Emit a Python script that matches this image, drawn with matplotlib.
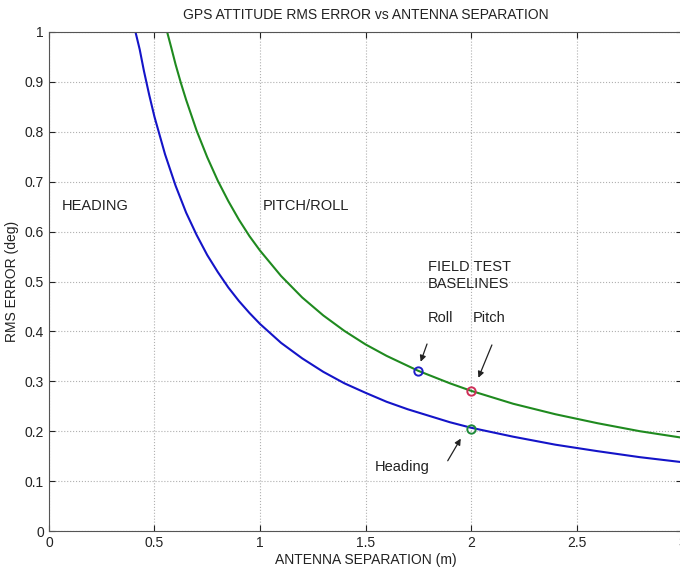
import matplotlib.pyplot as plt

plt.rcParams["font.family"] = ["Liberation Sans", "DejaVu Sans"]

# values
heading_x = [0.41, 0.43, 0.45, 0.475, 0.5, 0.55, 0.6, 0.65, 0.7, 0.75, 0.8, 0.85, 0.9, 0.95, 1.0,
             1.1, 1.2, 1.3, 1.4, 1.5, 1.6, 1.7, 1.8, 1.9, 2.0, 2.2, 2.4, 2.6, 2.8, 3.0]
heading_y = [1.0, 0.965, 0.922, 0.874, 0.83, 0.755, 0.692, 0.638, 0.593, 0.553, 0.519, 0.488, 0.461,
             0.437, 0.415, 0.377, 0.346, 0.319, 0.296, 0.277, 0.259, 0.244, 0.231, 0.218, 0.207,
             0.189, 0.173, 0.16, 0.148, 0.138]

pitchroll_x = [0.56, 0.58, 0.6, 0.625, 0.65, 0.7, 0.75, 0.8, 0.85, 0.9, 0.95, 1.0, 1.1, 1.2, 1.3,
               1.4, 1.5, 1.6, 1.75, 1.9, 2.0, 2.2, 2.4, 2.6, 2.8, 3.0]
pitchroll_y = [1.0, 0.968, 0.935, 0.898, 0.864, 0.802, 0.749, 0.702, 0.661, 0.624, 0.591, 0.562,
               0.511, 0.468, 0.432, 0.401, 0.374, 0.351, 0.321, 0.296, 0.281, 0.255, 0.234, 0.216,
               0.2, 0.187]

baseline_names = ["Roll", "Pitch", "Heading"]
baseline_x = [1.75, 2.0, 2.0]
baseline_y = [0.32, 0.28, 0.205]
baseline_colors = ["#1f1fc8", "#d0305a", "#1f8a3a"]

fig = plt.figure(figsize=(6.8, 5.71), dpi=100)
ax = fig.add_axes([0.072, 0.07, 0.931, 0.874])

ax.plot(heading_x, heading_y, color="#1414c8", lw=1.5)
ax.plot(pitchroll_x, pitchroll_y, color="#1f8a1f", lw=1.5)

for name, x, y, c in zip(baseline_names, baseline_x, baseline_y, baseline_colors):
    ax.plot(x, y, "o", ms=6, mfc="none", mec=c, mew=1.4, zorder=5)

arrow = dict(arrowstyle="-|>", color="#222222", lw=0.9, mutation_scale=9)
ax.annotate("", xy=(1.757, 0.334), xytext=(1.796, 0.38), arrowprops=arrow)
ax.annotate("", xy=(2.03, 0.302), xytext=(2.104, 0.378), arrowprops=arrow)
ax.annotate("", xy=(1.958, 0.19), xytext=(1.883, 0.136), arrowprops=arrow)

txt = dict(fontsize=10.5, color="#222222", va="center", ha="left")
ax.text(0.06, 0.651, "HEADING", **txt)
ax.text(1.014, 0.651, "PITCH/ROLL", **txt)
ax.text(1.796, 0.512, "FIELD TEST\nBASELINES", linespacing=1.35, **txt)
ax.text(1.796, 0.427, "Roll", **txt)
ax.text(2.01, 0.427, "Pitch", **txt)
ax.text(1.545, 0.128, "Heading", **txt)

ax.set_xlim(0, 3)
ax.set_ylim(0, 1)
ax.set_xticks([0, 0.5, 1, 1.5, 2, 2.5, 3])
ax.set_xticklabels(["0", "0.5", "1", "1.5", "2", "2.5", "3"])
ax.set_yticks([i / 10 for i in range(11)])
ax.set_yticklabels(["0", "0.1", "0.2", "0.3", "0.4", "0.5", "0.6", "0.7", "0.8", "0.9", "1"])
ax.tick_params(direction="in", length=4, labelsize=10, colors="#222222", top=True, right=True)
ax.grid(True, ls=":", color="#b0b0b0", lw=0.8)
for s in ax.spines.values():
    s.set_color("#555555")

ax.set_title("GPS ATTITUDE RMS ERROR vs ANTENNA SEPARATION", fontsize=10, color="#222222", pad=9)
ax.set_xlabel("ANTENNA SEPARATION (m)", fontsize=10, color="#222222", labelpad=2)
ax.set_ylabel("RMS ERROR (deg)", fontsize=10, color="#222222", labelpad=4)

fig.savefig("out.png", dpi=100)
